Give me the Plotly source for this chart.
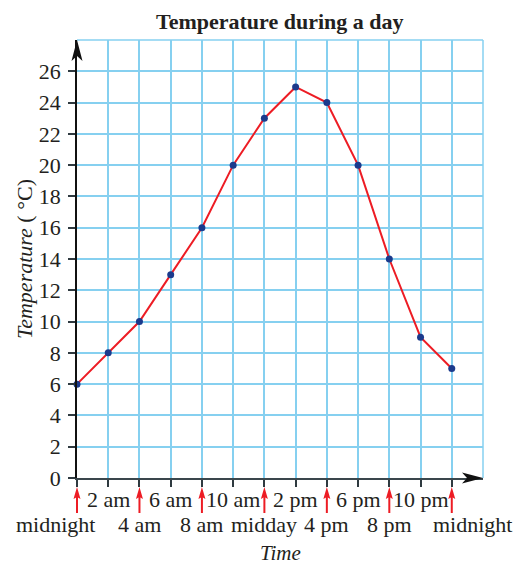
import plotly.graph_objects as go

hours = [0, 2, 4, 6, 8, 10, 12, 14, 16, 18, 20, 22, 24]
temps = [6, 8, 10, 13, 16, 20, 23, 25, 24, 20, 14, 9, 7]

upper_hours = [2, 6, 10, 14, 18, 22]
upper_labels = ["2 am", "6 am", "10 am", "2 pm", "6 pm", "10 pm"]
lower_hours = [0, 4, 8, 12, 16, 20, 24]
lower_labels = ["midnight", "4 am", "8 am", "midday", "4 pm", "8 pm", "midnight"]
y_ticks = list(range(0, 27, 2))
X_MAX = 26
Y_MAX = 28

FONT = "Liberation Serif"
TXT = "#231f20"
GRID = "#86d0f0"
RED = "#ed1c24"
NAVY = "#1b3a8c"

fig = go.Figure()
fig.add_trace(go.Scatter(
    x=hours, y=temps, mode="lines+markers",
    line=dict(color=RED, width=2),
    marker=dict(color=NAVY, size=7),
    cliponaxis=False, showlegend=False,
))

shapes = []
# grid border (top and right)
shapes.append(dict(type="line", xref="paper", yref="paper", x0=0, x1=1, y0=1, y1=1,
                   line=dict(color=GRID, width=1.5), layer="below"))
shapes.append(dict(type="line", xref="paper", yref="paper", x0=1, x1=1, y0=0, y1=1,
                   line=dict(color=GRID, width=1.5), layer="below"))
# y axis arrowhead (tip at top)
shapes.append(dict(type="path", xref="paper", yref="paper", xsizemode="pixel", ysizemode="pixel",
                   xanchor=0, yanchor=1, path="M0,0 L5.5,-21 L0,-16 L-5.5,-21 Z",
                   fillcolor="#111111", line=dict(width=0)))
# x axis arrowhead (tip at right)
shapes.append(dict(type="path", xref="paper", yref="paper", xsizemode="pixel", ysizemode="pixel",
                   xanchor=1, yanchor=0, path="M0,0 L-21,5.5 L-16,0 L-21,-5.5 Z",
                   fillcolor="#111111", line=dict(width=0)))
# red arrows under the axis
for h in lower_hours:
    px = h / X_MAX
    shapes.append(dict(type="path", xref="paper", yref="paper", xsizemode="pixel", ysizemode="pixel",
                       xanchor=px, yanchor=0, path="M0,-9 L3.5,-21 L0,-19 L-3.5,-21 Z",
                       fillcolor=RED, line=dict(width=0)))
    shapes.append(dict(type="path", xref="paper", yref="paper", xsizemode="pixel", ysizemode="pixel",
                       xanchor=px, yanchor=0, path="M0,-18 L0,-35",
                       line=dict(color=RED, width=2)))

annotations = []
for h, t in zip(upper_hours, upper_labels):
    annotations.append(dict(x=h, y=0, xref="x", yref="paper", text=t, showarrow=False,
                            yanchor="middle", yshift=-21, font=dict(family=FONT, size=22, color=TXT)))
for i, (h, t) in enumerate(zip(lower_hours, lower_labels)):
    xs = 0
    if i == 0:
        xs = -22
    elif i == len(lower_hours) - 1:
        xs = 21
    annotations.append(dict(x=h, y=0, xref="x", yref="paper", text=t, showarrow=False,
                            yanchor="middle", yshift=-46, xshift=xs,
                            font=dict(family=FONT, size=22, color=TXT)))
annotations.append(dict(x=0.5, y=0, xref="paper", yref="paper", text="<i>Time</i>", showarrow=False,
                        yanchor="middle", yshift=-75, font=dict(family=FONT, size=21, color=TXT)))
annotations.append(dict(x=0, y=0.5, xref="paper", yref="paper", text="<i>Temperature</i> ( °C)",
                        showarrow=False, textangle=-90, xanchor="center", yanchor="middle",
                        xshift=-53, font=dict(family=FONT, size=22, color=TXT)))
annotations.append(dict(x=0.5, y=1, xref="paper", yref="paper", text="<b>Temperature during a day</b>",
                        showarrow=False, yanchor="middle", yshift=19,
                        font=dict(family=FONT, size=22, color=TXT)))

fig.update_layout(
    width=526, height=566,
    margin=dict(l=77, r=43, t=40, b=88),
    paper_bgcolor="white", plot_bgcolor="white",
    shapes=shapes, annotations=annotations,
    xaxis=dict(range=[0, X_MAX], tickvals=list(range(0, 25, 2)), showticklabels=False,
               ticks="outside", ticklen=7, tickwidth=1.5, tickcolor="#2f3a40",
               showgrid=True, gridcolor=GRID, gridwidth=1.5,
               showline=True, linecolor="#3a464c", linewidth=2, zeroline=False, fixedrange=True),
    yaxis=dict(range=[0, Y_MAX], tickvals=y_ticks, ticktext=[str(v) for v in y_ticks],
               ticks="outside", ticklen=7, tickwidth=1.5, tickcolor="#2f3a40",
               tickfont=dict(family=FONT, size=22, color=TXT), ticklabelstandoff=3,
               showgrid=True, gridcolor=GRID, gridwidth=1.5,
               showline=True, linecolor="#111111", linewidth=1.5, zeroline=False, fixedrange=True),
)

fig.write_html("out.html", config={"displayModeBar": False},
               post_script="document.body.style.margin='0';")
